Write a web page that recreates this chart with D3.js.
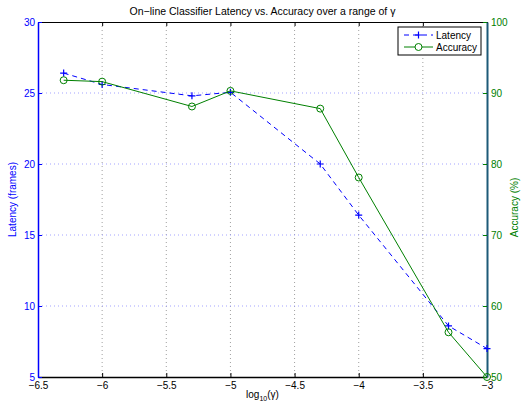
<!DOCTYPE html>
<html>
<head>
<meta charset="utf-8">
<script src="https://cdn.jsdelivr.net/npm/d3@7"></script>
<style>
    body { margin: 0; background: #fff; }
    text { font-family: "Liberation Sans", Arial, Helvetica, sans-serif; }
</style>
</head>
<body>
<svg id="chart" width="523" height="405"></svg>
<script>
// log10(gamma) values
const logGamma = [-6.3, -6, -5.3, -5, -4.3, -4, -3.3, -3];
// latency in frames (left axis)
const latency = [26.4, 25.6, 24.8, 25.05, 20.0, 16.4, 8.6, 7.0];
// accuracy in percent (right axis)
const accuracy = [91.8, 91.6, 88.1, 90.3, 87.8, 78.1, 56.3, 50.0];

const xTicks = [-6.5, -6, -5.5, -5, -4.5, -4, -3.5, -3];
const yLeftTicks = [5, 10, 15, 20, 25, 30];
const yRightTicks = [50, 60, 70, 80, 90, 100];

const margin = {left: 38, top: 22, right: 36, bottom: 28};
const width = 523, height = 405;
const blue = "#0000ff", green = "#008000";

const svg = d3.select("#chart");

const xScale = d3.scaleLinear().domain([-6.5, -3]).range([margin.left, width - margin.right]);
const yScale = d3.scaleLinear().domain([5, 30]).range([height - margin.bottom, margin.top]);
const y2Scale = d3.scaleLinear().domain([50, 100]).range([height - margin.bottom, margin.top]);

const x0 = margin.left, x1 = width - margin.right;
const yTop = margin.top, yBot = height - margin.bottom;

// grid lines
svg.append("g").selectAll("line").data(xTicks.slice(1, -1)).join("line")
    .attr("x1", d => xScale(d)).attr("x2", d => xScale(d))
    .attr("y1", yTop).attr("y2", yBot)
    .attr("stroke", "#888").attr("stroke-width", 0.8).attr("stroke-dasharray", "1,3");

svg.append("g").selectAll("line").data(yLeftTicks.slice(1, -1)).join("line")
    .attr("x1", x0).attr("x2", x1)
    .attr("y1", d => yScale(d)).attr("y2", d => yScale(d))
    .attr("stroke", "#9999ff").attr("stroke-width", 0.9).attr("stroke-dasharray", "1,3");

// x axis bottom + top
const xAxis = svg.append("g").attr("transform", `translate(0,${yBot})`)
    .call(d3.axisBottom(xScale).tickValues(xTicks).tickSizeInner(-4).tickSizeOuter(0)
        .tickFormat(d => d3.format("")(d).replace("-", "\u2212")));
xAxis.select(".domain").attr("stroke", "#000").attr("stroke-width", 1.5);
xAxis.selectAll(".tick line").attr("stroke", "#000");
xAxis.selectAll("text").attr("font-size", 10).attr("fill", "#000").attr("dy", "1.0em").attr("y", 2);

const xTop = svg.append("g").attr("transform", `translate(0,${yTop})`)
    .call(d3.axisTop(xScale).tickValues(xTicks).tickSizeInner(-4).tickSizeOuter(0).tickFormat(""));
xTop.select(".domain").attr("stroke", "#000").attr("stroke-width", 1.2);
xTop.selectAll(".tick line").attr("stroke", "#000");

// left axis
const yAxis = svg.append("g").attr("transform", `translate(${x0},0)`)
    .call(d3.axisLeft(yScale).tickValues(yLeftTicks).tickSizeInner(-4).tickSizeOuter(0));
yAxis.select(".domain").attr("stroke", blue).attr("stroke-width", 1.5);
yAxis.selectAll(".tick line").attr("stroke", blue);
yAxis.selectAll("text").attr("font-size", 10).attr("fill", blue).attr("x", -3);

// right axis
const y2Axis = svg.append("g").attr("transform", `translate(${x1},0)`)
    .call(d3.axisRight(y2Scale).tickValues(yRightTicks).tickSizeInner(-4).tickSizeOuter(0));
y2Axis.select(".domain").attr("stroke", "#1d5a78").attr("stroke-width", 2);
y2Axis.selectAll(".tick line").attr("stroke", green);
y2Axis.selectAll("text").attr("font-size", 10).attr("fill", green).attr("x", 4);

// latency line
const latLine = d3.line().x((d, i) => xScale(logGamma[i])).y(d => yScale(d));
svg.append("path").datum(latency)
    .attr("d", latLine).attr("fill", "none")
    .attr("stroke", blue).attr("stroke-width", 1).attr("stroke-dasharray", "5,4");
svg.append("g").selectAll("path").data(latency).join("path")
    .attr("d", (d, i) => {
        const cx = xScale(logGamma[i]), cy = yScale(d);
        return `M${cx - 3.5},${cy}H${cx + 3.5}M${cx},${cy - 3.5}V${cy + 3.5}`;
    })
    .attr("stroke", blue).attr("stroke-width", 1.2);

// accuracy line
const accLine = d3.line().x((d, i) => xScale(logGamma[i])).y(d => y2Scale(d));
svg.append("path").datum(accuracy)
    .attr("d", accLine).attr("fill", "none")
    .attr("stroke", green).attr("stroke-width", 1);
svg.append("g").selectAll("circle").data(accuracy).join("circle")
    .attr("cx", (d, i) => xScale(logGamma[i])).attr("cy", d => y2Scale(d))
    .attr("r", 3.5).attr("fill", "none").attr("stroke", green).attr("stroke-width", 1);

// title
const title = svg.append("text").attr("x", (x0 + x1) / 2).attr("y", 15)
    .attr("text-anchor", "middle").attr("font-size", 10.5).attr("fill", "#000");
title.append("tspan").text("On\u2212line Classifier Latency vs. Accuracy over a range of ");
title.append("tspan").text("\u03b3");

// x label
const xl = svg.append("text").attr("x", (x0 + x1) / 2).attr("y", 398)
    .attr("text-anchor", "middle").attr("font-size", 10).attr("fill", "#000");
xl.append("tspan").text("log");
xl.append("tspan").attr("font-size", 7).attr("dy", 3).text("10");
xl.append("tspan").attr("dy", -3).text("(\u03b3)");

// y labels
svg.append("text").attr("transform", `translate(16,${(yTop + yBot) / 2}) rotate(-90)`)
    .attr("text-anchor", "middle").attr("font-size", 10).attr("fill", blue)
    .text("Latency (frames)");
svg.append("text").attr("transform", `translate(518,${(yTop + yBot) / 2 + 8}) rotate(-90)`)
    .attr("text-anchor", "middle").attr("font-size", 10).attr("fill", green)
    .text("Accuracy (%)");

// legend
const lg = svg.append("g").attr("transform", "translate(398,27)");
lg.append("rect").attr("width", 83).attr("height", 28)
    .attr("fill", "#fff").attr("stroke", "#000").attr("stroke-width", 1);
lg.append("line").attr("x1", 6).attr("x2", 35).attr("y1", 8).attr("y2", 8)
    .attr("stroke", blue).attr("stroke-dasharray", "5,4");
lg.append("path").attr("d", "M17,8H24M20.5,4.5V11.5").attr("stroke", blue).attr("stroke-width", 1.2);
lg.append("text").attr("x", 38).attr("y", 11.5).attr("font-size", 10).text("Latency");
lg.append("line").attr("x1", 6).attr("x2", 35).attr("y1", 20).attr("y2", 20).attr("stroke", green);
lg.append("circle").attr("cx", 20.5).attr("cy", 20).attr("r", 3.5)
    .attr("fill", "#fff").attr("stroke", green);
lg.append("text").attr("x", 38).attr("y", 23.5).attr("font-size", 10).text("Accuracy");
</script>
</body>
</html>
